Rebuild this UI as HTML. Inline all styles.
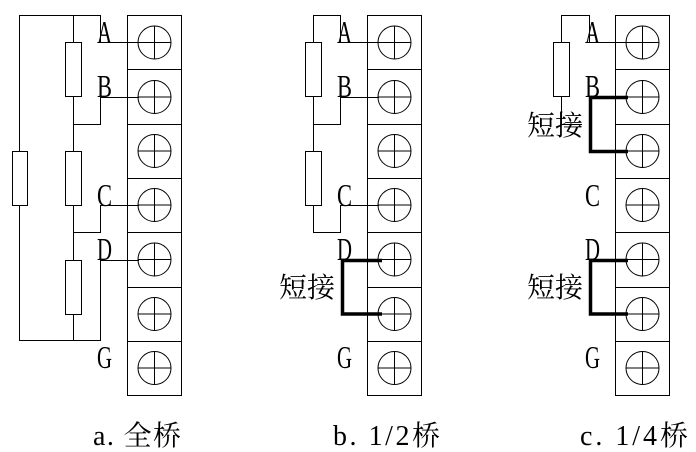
<!DOCTYPE html>
<html><head><meta charset="utf-8"><style>
html,body{margin:0;padding:0;background:#fff;}
svg{display:block}
text{font-family:"Liberation Serif","Noto Serif CJK SC",serif;fill:#000}
</style></head><body>
<svg width="696" height="452" viewBox="0 0 696 452" xmlns="http://www.w3.org/2000/svg">
<defs>
<g id="blk" fill="none" stroke="#000" stroke-width="1">
<rect x="0.5" y="15.5" width="54" height="380"/>
<line x1="0" y1="69.5" x2="55" y2="69.5"/>
<line x1="0" y1="124.5" x2="55" y2="124.5"/>
<line x1="0" y1="178.5" x2="55" y2="178.5"/>
<line x1="0" y1="232.5" x2="55" y2="232.5"/>
<line x1="0" y1="287.5" x2="55" y2="287.5"/>
<line x1="0" y1="341.5" x2="55" y2="341.5"/>
<g id="cir"><circle cx="27.5" cy="42.5" r="16.5"/><line x1="11" y1="42.5" x2="44" y2="42.5"/><line x1="27.5" y1="26" x2="27.5" y2="59"/></g>
<use href="#cir" y="54.5"/><use href="#cir" y="108.5"/><use href="#cir" y="162.5"/><use href="#cir" y="217"/><use href="#cir" y="271.5"/><use href="#cir" y="325.5"/>
</g>
</defs>

<!-- panel a -->
<use href="#blk" x="127"/>
<g fill="none" stroke="#000" stroke-width="1">
<polyline points="100.5,42.5 100.5,15.5 19.5,15.5 19.5,340.5 100.5,340.5 100.5,260.5"/>
<line x1="73.5" y1="15.5" x2="73.5" y2="340.5"/>
<rect x="12.5" y="151.5" width="15" height="54" fill="#fff"/>
<rect x="65.5" y="42.5" width="16" height="54" fill="#fff"/>
<rect x="65.5" y="151.5" width="16" height="54" fill="#fff"/>
<rect x="65.5" y="260.5" width="16" height="54" fill="#fff"/>
<line x1="100" y1="42.5" x2="139" y2="42.5"/>
<polyline points="139,97.5 100.5,97.5 100.5,124.5 73.5,124.5"/>
<polyline points="139,205.5 100.5,205.5 100.5,232.5 73.5,232.5"/>
<line x1="100" y1="260.5" x2="139" y2="260.5"/>
</g>
<g font-size="32">
<text x="97" y="43" textLength="15" lengthAdjust="spacingAndGlyphs">A</text>
<text x="97" y="97" textLength="15" lengthAdjust="spacingAndGlyphs">B</text>
<text x="97" y="206" textLength="15" lengthAdjust="spacingAndGlyphs">C</text>
<text x="97" y="260" textLength="15" lengthAdjust="spacingAndGlyphs">D</text>
<text x="97" y="368" textLength="15" lengthAdjust="spacingAndGlyphs">G</text>
</g>

<!-- panel b -->
<use href="#blk" x="367"/>
<g fill="none" stroke="#000" stroke-width="1">
<polyline points="340.5,42.5 340.5,15.5 313.5,15.5 313.5,232.5 340.5,232.5 340.5,205.5 379,205.5"/>
<rect x="305.5" y="42.5" width="16" height="54" fill="#fff"/>
<rect x="305.5" y="151.5" width="16" height="54" fill="#fff"/>
<line x1="340" y1="42.5" x2="379" y2="42.5"/>
<polyline points="379,97.5 340.5,97.5 340.5,124.5 313.5,124.5"/>
</g>
<polyline points="382,260.5 342.5,260.5 342.5,314 382,314" fill="none" stroke="#000" stroke-width="3.5"/>
<g font-size="32">
<text x="337" y="43" textLength="15" lengthAdjust="spacingAndGlyphs">A</text>
<text x="337" y="97" textLength="15" lengthAdjust="spacingAndGlyphs">B</text>
<text x="337" y="206" textLength="15" lengthAdjust="spacingAndGlyphs">C</text>
<text x="337" y="260" textLength="15" lengthAdjust="spacingAndGlyphs">D</text>
<text x="337" y="368" textLength="15" lengthAdjust="spacingAndGlyphs">G</text>
</g>
<text x="279" y="297" font-size="28">短接</text>

<!-- panel c -->
<use href="#blk" x="615"/>
<g fill="none" stroke="#000" stroke-width="1">
<polyline points="589.5,42.5 589.5,15.5 561.5,15.5 561.5,124.5 582,124.5"/>
<rect x="553.5" y="42.5" width="16" height="54" fill="#fff"/>
<line x1="589" y1="42.5" x2="627" y2="42.5"/>
</g>
<polyline points="628,97.5 590.5,97.5 590.5,151.5 628,151.5" fill="none" stroke="#000" stroke-width="3.5"/>
<polyline points="628,260.5 590.5,260.5 590.5,314 628,314" fill="none" stroke="#000" stroke-width="3.5"/>
<g font-size="32">
<text x="585" y="43" textLength="15" lengthAdjust="spacingAndGlyphs">A</text>
<text x="585" y="97" textLength="15" lengthAdjust="spacingAndGlyphs">B</text>
<text x="585" y="206" textLength="15" lengthAdjust="spacingAndGlyphs">C</text>
<text x="585" y="260" textLength="15" lengthAdjust="spacingAndGlyphs">D</text>
<text x="585" y="368" textLength="15" lengthAdjust="spacingAndGlyphs">G</text>
</g>
<text x="527" y="135" font-size="28">短接</text>
<text x="527" y="297" font-size="28">短接</text>

<!-- captions -->
<text x="93" y="445" font-size="28" textLength="88" lengthAdjust="spacing">a. 全桥</text>
<text x="333" y="445" font-size="28" textLength="107" lengthAdjust="spacing">b. 1/2桥</text>
<text x="580" y="445" font-size="28" textLength="108" lengthAdjust="spacing">c. 1/4桥</text>
</svg>
</body></html>
